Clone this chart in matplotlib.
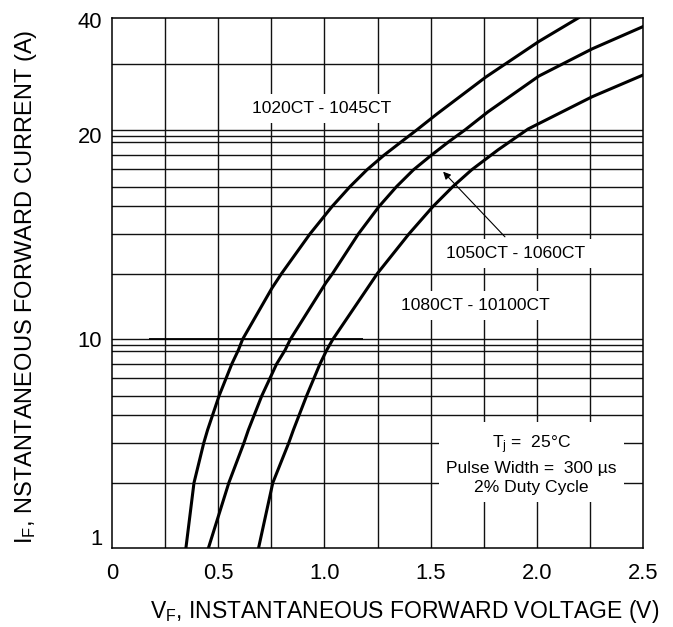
import matplotlib
matplotlib.use('Agg')
import matplotlib.pyplot as plt

plt.rcParams['font.family'] = ['Liberation Sans', 'DejaVu Sans']
plt.rcParams['mathtext.default'] = 'regular'

# forward voltage (V) vs forward current, y in log-paper units of the sheet
v_1020 = [0.348, 0.386, 0.432, 0.450, 0.504, 0.564, 0.595, 0.615, 0.753, 0.799,
          0.932, 1.036, 1.121, 1.200, 1.282, 1.360, 1.435, 1.529, 1.760,
          2.010, 2.195]
i_1020 = [1.0, 2.05, 3.18, 3.67, 5.34, 7.59, 8.85, 9.97, 17.5, 20.6,
          31.8, 43.0, 53.6, 64.4, 75.9, 87.4, 100, 119, 179,
          265, 343]

v_1050 = [0.454, 0.550, 0.621, 0.642, 0.705, 0.775, 0.815, 0.840, 1.006, 1.039,
          1.160, 1.257, 1.340, 1.419, 1.505, 1.583, 1.662, 1.770, 2.010, 2.260,
          2.500]
i_1050 = [1.0, 2.05, 3.18, 3.67, 5.34, 7.59, 8.85, 9.97, 18.5, 20.6,
          31.8, 43.0, 53.6, 64.4, 75.9, 87.4, 100, 122, 181, 244,
          312]

v_1080 = [0.690, 0.757, 0.832, 0.854, 0.916, 0.979, 1.011, 1.040, 1.250, 1.398,
          1.511, 1.605, 1.693, 1.817, 1.959, 2.260, 2.500]
i_1080 = [1.0, 2.05, 3.18, 3.67, 5.34, 7.59, 8.85, 9.97, 20.6, 31.8,
          43.0, 53.6, 64.4, 80.2, 101, 144, 183]

# grid of the printed log paper (as drawn on the sheet)
x_grid = [0.25, 0.5, 0.75, 1.0, 1.25, 1.5, 1.75, 2.0, 2.25]
y_grid = [2.05, 3.18, 4.31, 5.34, 6.47, 7.59, 8.76, 9.31, 10,
          20.5, 31.8, 43.1, 53.4, 64.7, 75.9, 87.6, 93.1, 100, 207]

x_ticks = [0, 0.5, 1.0, 1.5, 2.0, 2.5]
x_labels = ['0', '0.5', '1.0', '1.5', '2.0', '2.5']
y_ticks = [1.13, 10, 94.6, 336]
y_labels = ['1', '10', '20', '40']

fig = plt.figure(figsize=(6.73, 6.27), dpi=100)
ax = fig.add_axes([112 / 673, 79 / 627, 531 / 673, 530 / 627])
ax.set_yscale('log')
ax.set_xlim(0, 2.5)
ax.set_ylim(1, 343)

for g in x_grid:
    ax.axvline(g, color='#111111', lw=1.0, zorder=1)
for g in y_grid:
    ax.axhline(g, color='#111111', lw=1.0, zorder=1)
ax.hlines(10, 0.175, 1.18, color='black', lw=1.3, zorder=1)

ax.plot(v_1020, i_1020, color='black', lw=2.2, zorder=3)
ax.plot(v_1050, i_1050, color='black', lw=2.2, zorder=3)
ax.plot(v_1080, i_1080, color='black', lw=2.2, zorder=3)

ax.set_xticks(x_ticks, x_labels)
ax.set_yticks(y_ticks, y_labels)
ax.yaxis.set_minor_locator(matplotlib.ticker.NullLocator())
ax.tick_params(length=0, labelsize=15.8)
ax.tick_params(axis='x', pad=11)
ax.tick_params(axis='y', pad=7)
for s in ax.spines.values():
    s.set_linewidth(1.1)

box = dict(boxstyle='square,pad=0.4', facecolor='white', edgecolor='none')
ax.text(0.985, 126.7, '1020CT - 1045CT', fontsize=12.6, ha='center', va='center',
        bbox=box, zorder=4)
ax.text(1.90, 25.5, '1050CT - 1060CT', fontsize=12.6, ha='center', va='center',
        bbox=box, zorder=4)
ax.text(1.712, 14.5, '1080CT - 10100CT', fontsize=12.6, ha='center', va='center',
        bbox=box, zorder=4)
ax.text(1.974, 2.515, 'T$_{j}$ =  25°C\nPulse Width =  300 µs\n2% Duty Cycle',
        fontsize=12.6, ha='center', va='center', multialignment='center',
        linespacing=1.35, bbox=box, zorder=4)

ax.annotate('', xy=(1.559, 63.1), xytext=(1.85, 30.8),
            arrowprops=dict(arrowstyle='-|>', color='black', lw=0.8,
                            mutation_scale=11, shrinkA=0, shrinkB=0), zorder=4)

fig.text(405 / 673, (627 - 618) / 627, 'V$_{F}$, INSTANTANEOUS FORWARD VOLTAGE (V)',
         fontsize=16.5, ha='center', va='baseline')
fig.text(26 / 673, (627 - 287) / 627, 'I$_{F}$, NSTANTANEOUS FORWARD CURRENT (A)',
         fontsize=17, rotation=90, ha='center', va='center')

fig.savefig('out.png', dpi=100)
